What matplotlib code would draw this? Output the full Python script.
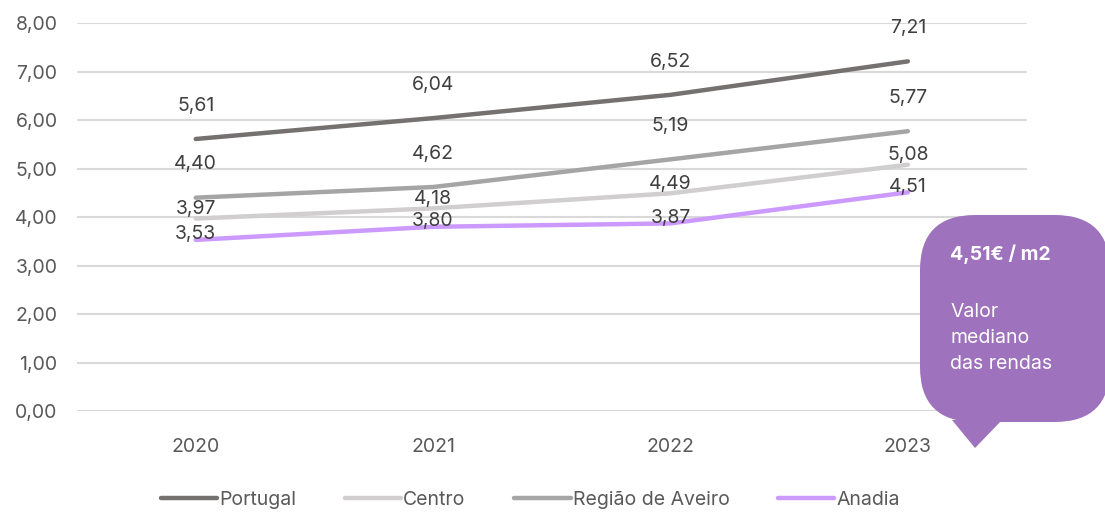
import matplotlib.pyplot as plt
from matplotlib.patches import FancyBboxPatch, Polygon

plt.rcParams['font.family'] = ['Inter', 'DejaVu Sans']

years = ['2020', '2021', '2022', '2023']
portugal = [5.61, 6.04, 6.52, 7.21]
centro = [3.97, 4.18, 4.49, 5.08]
aveiro = [4.40, 4.62, 5.19, 5.77]
anadia = [3.53, 3.80, 3.87, 4.51]

series = [
    ('Portugal', portugal, '#767171', 24),
    ('Centro', centro, '#D0CECE', 7),
    ('Região de Aveiro', aveiro, '#A5A5A5', 24),
    ('Anadia', anadia, '#CC99FF', 4),
]

txt = '#404040'
fig = plt.figure(figsize=(11.05, 5.12), dpi=100)
ax = fig.add_axes([0.0697, 0.197, 0.8593, 0.758])

x = range(len(years))
for name, vals, col, off in series:
    ax.plot(x, vals, color=col, lw=3.2, solid_capstyle='round', label=name)
    for i, v in enumerate(vals):
        ax.annotate(f'{v:.2f}'.replace('.', ','), (i, v), xytext=(0, off),
                    textcoords='offset points', ha='center', va='center',
                    fontsize=14, color=txt)

ax.set_xlim(-0.5, 3.5)
ax.set_ylim(0, 8)
ax.set_xticks(list(x))
ax.set_xticklabels(years)
ax.set_yticks(range(0, 9))
ax.set_yticklabels([f'{v},00' for v in range(0, 9)])
ax.tick_params(length=0, labelsize=14, labelcolor='#595959', pad=14)
ax.tick_params(axis='x', pad=19)
ax.grid(axis='y', color='#D9D9D9', lw=1.5)
ax.set_axisbelow(True)
for s in ax.spines.values():
    s.set_visible(False)

leg = fig.legend(loc='center', bbox_to_anchor=(0.48, 0.024), ncol=4, frameon=False,
                 fontsize=14, handlelength=2.9, handletextpad=0.1, columnspacing=2.5)
for t in leg.get_texts():
    t.set_color('#595959')

# callout box
W, H = 1105, 512
purple = '#9E72BC'
box = FancyBboxPatch((920 / W, 1 - 422 / H), 190 / W, 207 / H,
                     boxstyle='round,pad=0,rounding_size=0.05',
                     transform=fig.transFigure, fc=purple, ec='none',
                     mutation_aspect=W / H, zorder=5)
fig.patches.append(box)
tri = Polygon([(952 / W, 1 - 420 / H), (1002 / W, 1 - 420 / H), (975 / W, 1 - 448 / H)],
              closed=True, transform=fig.transFigure, fc=purple, ec='none', zorder=5)
fig.patches.append(tri)
fig.text(950 / W, 1 - 254 / H, '4,51€ / m2', color='white', fontsize=14,
         fontweight='bold', va='center', ha='left', zorder=6)
fig.text(950 / W, 1 - 338 / H, 'Valor\nmediano\ndas rendas', color='white', fontsize=14,
         va='center', ha='left', linespacing=1.6, zorder=6)

fig.savefig('out.png', dpi=100)
